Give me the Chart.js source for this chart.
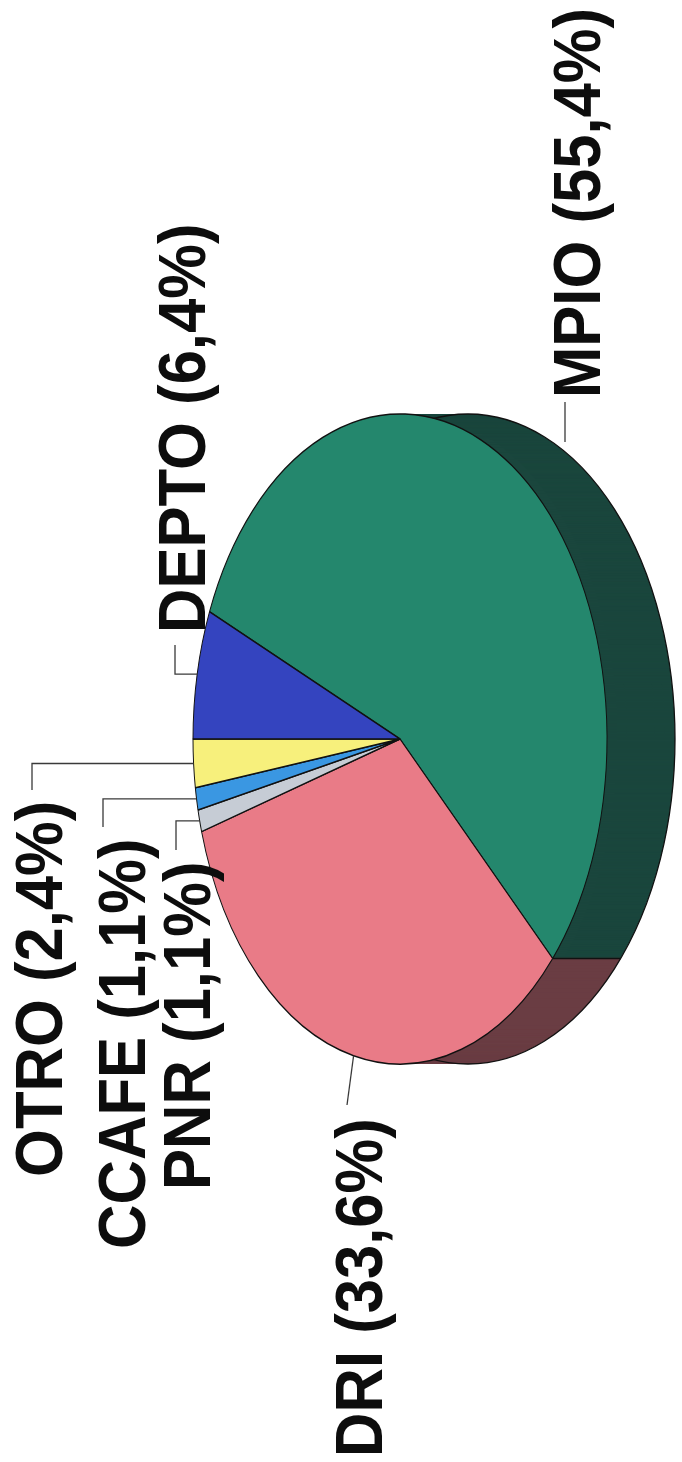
<!DOCTYPE html>
<html lang="es">
<head>
<meta charset="UTF-8">
<title>Distribución por fuente</title>
<script src="https://cdn.jsdelivr.net/npm/chart.js@4.4.1/dist/chart.umd.min.js"></script>
<style>
  html, body { margin: 0; padding: 0; background: #fff; }
  canvas { display: block; }
</style>
</head>
<body>
<canvas id="pie" width="682" height="1462"></canvas>
<script>
// datos
const labels = ['MPIO', 'DRI', 'PNR', 'CCAFE', 'OTRO', 'DEPTO'];
const values = [55.4, 33.6, 1.1, 1.1, 2.4, 6.4];

const topColors  = ['#24876d', '#e97b87', '#c6ccd5', '#3a97e2', '#f7f07c', '#3444bf'];
const sideColors = ['#1a463d', '#6a3d43', '#8a8f98', '#245f90', '#a09a40', '#222c7a'];

// geometría de la elipse (página girada)
const CX = 400, CY = 739, RX = 207, RY = 325, DEPTH = 68;

// texto: línea base (x) e inicio (y), leído de abajo hacia arriba
const labelPos = [[600, 398], [382, 1457], [210, 1190], [145, 1249], [62, 1177], [205, 633]];
const leaderFrom = [[565, 402], [347, 1105], [176, 850], [103, 827], [32, 790], [175, 645]];
const leaderTo = [[565, 442], null, null, null, null, null];
const leaderBend = [false, false, true, true, true, true];

function pct(v) { return v.toFixed(1).replace('.', ','); }

function edgePoint(angle) {
  return [CX + RX * Math.cos(angle), CY + RY * Math.sin(angle)];
}

const pie3d = {
  id: 'pie3d',
  beforeDatasetsDraw(chart) {
    const ctx = chart.ctx;
    const arcs = chart.getDatasetMeta(0).data;
    const a0 = arcs[0];
    const place = (dx) => {
      ctx.translate(CX + dx, CY);
      ctx.scale(RX / a0.outerRadius, RY / a0.outerRadius);
      ctx.translate(-a0.x, -a0.y);
    };

    // lado (profundidad)
    for (let d = DEPTH; d >= 1; d--) {
      ctx.save();
      place(d);
      arcs.forEach((a, i) => {
        ctx.beginPath();
        ctx.moveTo(a.x, a.y);
        ctx.arc(a.x, a.y, a.outerRadius, a.startAngle, a.endAngle);
        ctx.closePath();
        ctx.fillStyle = sideColors[i];
        ctx.fill();
      });
      ctx.restore();
    }

    // contorno exterior del lado
    ctx.save();
    place(DEPTH);
    ctx.beginPath();
    ctx.arc(a0.x, a0.y, a0.outerRadius, 0, Math.PI * 2);
    ctx.restore();
    ctx.strokeStyle = '#111';
    ctx.lineWidth = 1.3;
    ctx.stroke();

    // aristas entre sectores en el lado visible
    arcs.forEach(a => {
      if (Math.cos(a.startAngle) > 0) {
        const p = edgePoint(a.startAngle);
        ctx.beginPath();
        ctx.moveTo(p[0], p[1]);
        ctx.lineTo(p[0] + DEPTH, p[1]);
        ctx.strokeStyle = '#111';
        ctx.lineWidth = 1.3;
        ctx.stroke();
      }
    });

    ctx.save();
    place(0);
  },
  afterDatasetsDraw(chart) {
    chart.ctx.restore();
  },
  afterDraw(chart) {
    const ctx = chart.ctx;
    const arcs = chart.getDatasetMeta(0).data;

    // líneas guía
    ctx.save();
    ctx.strokeStyle = '#3a3a3a';
    ctx.lineWidth = 1.3;
    arcs.forEach((a, i) => {
      const from = leaderFrom[i];
      const to = leaderTo[i] || edgePoint((a.startAngle + a.endAngle) / 2);
      ctx.beginPath();
      ctx.moveTo(from[0], from[1]);
      if (leaderBend[i]) ctx.lineTo(from[0], to[1]);
      ctx.lineTo(to[0], to[1]);
      ctx.stroke();
    });
    ctx.restore();

    // etiquetas giradas
    ctx.save();
    ctx.fillStyle = '#0d0d0d';
    ctx.font = 'bold 66px "Liberation Sans", Arial, sans-serif';
    ctx.textBaseline = 'alphabetic';
    ctx.textAlign = 'left';
    labels.forEach((lab, i) => {
      ctx.save();
      ctx.translate(labelPos[i][0], labelPos[i][1]);
      ctx.rotate(-Math.PI / 2);
      ctx.scale(0.933, 1);
      ctx.fillText(lab + ' (' + pct(values[i]) + '%)', 0, 0);
      ctx.restore();
    });
    ctx.restore();
  }
};

new Chart(document.getElementById('pie'), {
  type: 'pie',
  data: {
    labels: labels,
    datasets: [{
      data: values,
      backgroundColor: topColors,
      borderColor: '#111',
      borderWidth: 1.6,
      clip: false
    }]
  },
  options: {
    responsive: false,
    animation: false,
    events: [],
    rotation: 90 + 180 + values[values.length - 1] * 3.6,
    layout: { padding: 0 },
    plugins: {
      legend: { display: false },
      tooltip: { enabled: false }
    }
  },
  plugins: [pie3d]
});
</script>
</body>
</html>
